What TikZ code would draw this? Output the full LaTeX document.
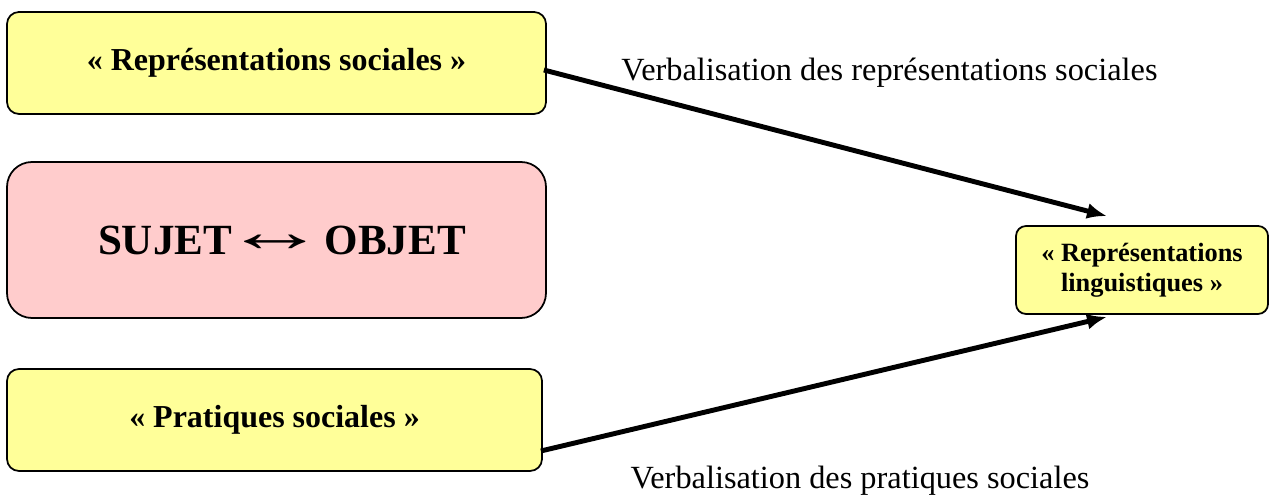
\documentclass[tikz,border=0pt]{standalone}
\usepackage{fontspec}
\usepackage{graphicx}
\setmainfont{Liberation Serif}
\usetikzlibrary{positioning,calc,arrows.meta}
\definecolor{paleyellow}{HTML}{FFFF99}
\definecolor{palepink}{HTML}{FFCCCC}
\tikzset{
    every node/.style={font=\fontsize{18.4}{22}\selectfont},
    yellowbox/.style={draw=black, fill=paleyellow, line width=1pt, rounded corners=0.24cm, align=center, font=\fontsize{18.2}{22}\selectfont\bfseries},
    pinkbox/.style={draw=black, fill=palepink, line width=1pt, rounded corners=0.5cm, align=center, font=\fontsize{24.5}{30}\selectfont\bfseries},
    smallbox/.style={draw=black, fill=paleyellow, line width=1pt, rounded corners=0.2cm, align=center, font=\fontsize{15}{17}\selectfont\bfseries},
    arrow/.style={-{Latex[length=4mm, width=3.2mm]}, line width=2.8pt},
}

\begin{document}
\begin{tikzpicture}
\useasboundingbox (0,0) rectangle (25.4,-9.94);

\node[yellowbox, minimum width=10.78cm, minimum height=2.04cm] (rs) at (5.53,-1.26) {«~Représentations sociales~»};
\node[pinkbox, minimum width=10.78cm, minimum height=3.12cm] (so) at (5.53,-4.8) {\hspace{0.25em}SUJET\hspace{-0.45em} \raisebox{0.05em}{\scalebox{2.4}[1.35]{↔}}\hspace{-0.3em} OBJET};
\node[yellowbox, minimum width=10.7cm, minimum height=2.04cm] (ps) at (5.49,-8.4) {«~Pratiques sociales~»};
\node[smallbox, minimum width=5.04cm, minimum height=1.76cm] (rl) at (22.84,-5.4) {«~Représentations\\linguistiques~»};

% verbalisation arrows
\draw[arrow] ([xshift=-0.06cm, yshift=-0.14cm]rs.east) -- ([xshift=-0.7cm, yshift=0.18cm]rl.north);
\draw[arrow] ([xshift=-0.04cm, yshift=-0.62cm]ps.east) -- ([xshift=-0.7cm, yshift=-0.04cm]rl.south);

\node[anchor=base] (vrs) at (17.79,-1.62) {Verbalisation des représentations sociales};
\node[anchor=base] (vps) at (17.2,-9.78) {Verbalisation des pratiques sociales};

\end{tikzpicture}
\end{document}
